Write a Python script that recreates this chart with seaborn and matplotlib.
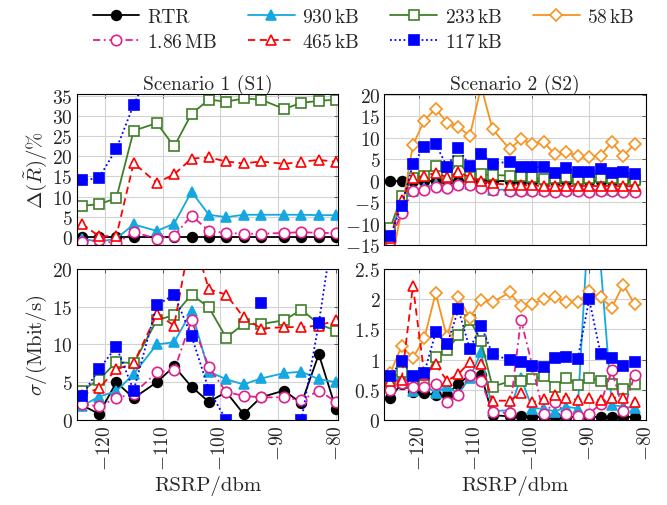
import numpy as np
import pandas as pd
import matplotlib
matplotlib.use('Agg')
import matplotlib.pyplot as plt
from matplotlib.lines import Line2D
from matplotlib.ticker import FuncFormatter, MultipleLocator
import seaborn as sns

nan = np.nan

# RSRP-Stuetzstellen der beiden Szenarien
rsrp_s1 = [-124, -121, -118, -115, -111, -108, -105, -102, -99, -96, -93, -89, -86, -83, -80]
rsrp_s2 = [-125, -123, -121, -119, -117, -115, -113, -111, -109, -107, -104, -102,
           -100, -98, -96, -94, -92, -90, -88, -86, -84, -82]

# Szenario 1: relative Abweichung Delta(R~) in %
d1_rtr = [0.0] * 15
d1_1860 = [-1.2, -0.8, -1.6, 1.2, -0.4, 0.3, 5.3, 1.5, 1.0, 0.8, 0.8, 1.0, 1.2, 1.0, 1.0]
d1_930 = [-0.4, -1.2, -0.4, 3.1, 1.5, 3.3, 11.2, 5.5, 4.9, 5.5, 5.5, 5.5, 5.5, 5.4, 5.4]
d1_465 = [3.3, 0.2, 0.2, 18.3, 13.4, 15.5, 19.4, 19.7, 18.7, 18.2, 18.7, 18.1, 18.6, 19.1, 18.6]
d1_233 = [7.7, 8.1, 9.6, 26.3, 28.2, 22.4, 30.5, 34.0, 33.5, 34.3, 34.0, 31.7, 33.2, 33.7, 34.0]
d1_117 = [14.0, 14.6, 21.8, 32.7, 45.0, nan, nan, nan, nan, nan, nan, nan, nan, nan, nan]

# Szenario 1: Standardabweichung sigma in Mbit/s
s1_rtr = [2.0, 0.8, 5.0, 2.9, 5.0, 7.1, 4.4, 2.4, 3.7, 0.8, 3.0, 3.9, 2.2, 8.7, 1.4]
s1_1860 = [2.1, 1.8, 2.9, 3.5, 6.3, 6.6, 13.2, 7.0, 3.7, 3.2, 3.0, 3.0, 2.6, 3.9, 2.4]
s1_930 = [1.8, 3.1, 3.8, 6.1, 10.0, 10.3, 14.4, 6.4, 5.4, 4.7, 5.5, 6.2, 6.4, 5.4, 5.0]
s1_465 = [3.3, 4.2, 6.7, 7.5, 14.0, 12.5, 25.0, 17.3, 16.6, 13.6, 12.1, 12.3, 12.3, 12.5, 13.2]
s1_233 = [3.9, 5.3, 7.7, 7.5, 13.2, 13.9, 16.6, 14.9, 10.9, 12.7, 12.7, 13.2, 14.6, 12.7, 11.8]
s1_117 = [3.2, 6.7, 9.7, 3.9, 15.2, 16.6, 11.1, 4.0, 0.0, nan, 15.5, nan, 0.0, 12.8, 28.0]

# Szenario 2: relative Abweichung
d2_rtr = [0.0] * 22
d2_1860 = [-14.0, -7.5, -2.4, -2.1, -1.5, -1.7, -1.1, -1.1, -1.7, -2.1, -2.4, -2.5,
           -2.5, -2.5, -2.6, -2.5, -2.5, -2.6, -2.5, -2.5, -2.6, -2.6]
d2_930 = [-12.7, -4.7, -2.4, -1.7, -0.8, -1.3, -0.8, -0.8, -1.3, -2.1, -2.1, -2.2,
          -2.2, -2.2, -2.2, -2.2, -2.2, -2.2, -2.2, -2.2, -2.2, -2.2]
d2_465 = [-13.3, -4.4, 0.7, 1.1, 1.8, 0.8, 2.0, 0.8, -0.1, -0.6, -1.0, -1.1,
          -1.1, -1.3, -1.2, -1.2, -1.3, -1.2, -1.3, -1.2, -1.3, -1.3]
d2_233 = [-11.1, -3.6, 0.7, 1.1, 3.5, 0.8, 4.6, 0.9, 1.5, 1.3, 1.2, 1.0,
          0.8, 0.3, 0.6, 0.8, 0.5, 0.6, 0.8, 0.7, 0.5, 0.2]
d2_117 = [-13.0, -5.8, 3.8, 7.9, 8.5, 3.3, 7.5, 3.4, 6.3, 4.0, 4.4, 3.3,
          3.2, 3.1, 1.9, 2.9, 2.1, 2.1, 2.7, 1.7, 2.1, 1.5]
d2_58 = [-20.0, -7.2, 8.3, 14.0, 16.8, 13.5, 12.5, 10.4, 22.0, 12.0, 7.4, 9.6,
         8.6, 9.0, 6.1, 6.7, 5.7, 5.6, 5.8, 9.0, 5.7, 8.6]

# Szenario 2: Standardabweichung
s2_rtr = [0.37, 0.6, 0.47, 0.45, 0.41, 0.42, 0.6, 0.74, 0.75, 0.08, 0.06, 0.06,
          0.05, 0.05, 0.05, 0.05, 0.05, 0.05, 0.05, 0.05, 0.05, 0.05]
s2_1860 = [0.5, 0.62, 0.55, 0.55, 0.6, 0.3, 0.41, 0.75, 0.64, 0.14, 0.11, 1.66,
           0.9, 0.1, 0.3, 0.1, 0.07, 0.1, 0.27, 0.82, 0.15, 0.74]
s2_930 = [0.62, 0.72, 0.48, 0.58, 0.45, 0.56, 0.43, 0.7, 1.12, 0.15, 0.16, 0.7,
          0.19, 0.19, 0.14, 0.22, 0.19, 3.5, 2.6, 0.25, 0.22, 0.2]
s2_465 = [0.64, 0.66, 2.22, 0.75, 0.92, 0.65, 0.76, 0.96, 0.92, 0.32, 0.32, 0.44,
          0.29, 0.35, 0.41, 0.37, 0.33, 0.36, 0.33, 0.37, 0.36, 0.3]
s2_233 = [0.68, 0.8, 0.62, 0.62, 1.05, 1.15, 1.4, 1.66, 1.3, 0.55, 0.64, 0.64,
          0.68, 0.72, 0.55, 0.7, 0.58, 0.7, 0.65, 0.59, 0.52, 0.59]
s2_117 = [0.72, 0.98, 0.72, 0.78, 1.45, 1.25, 1.83, 1.18, 1.56, 1.09, 0.99, 0.96,
          0.89, 0.88, 1.03, 1.05, 1.01, 2.0, 1.1, 1.03, 0.9, 0.96]
s2_58 = [0.77, 1.22, 1.03, 1.35, 2.1, 1.37, 2.04, 1.69, 1.98, 1.95, 2.11, 1.88,
         1.92, 2.0, 2.03, 1.95, 1.95, 2.13, 2.03, 1.86, 2.24, 1.92]

labels = ['RTR', '930$\\,$kB', '233$\\,$kB', '58$\\,$kB', '1.86$\\,$MB', '465$\\,$kB', '117$\\,$kB']

# Linienstile je Dateigroesse (Reihenfolge wie gezeichnet)
styles = {
    'RTR': dict(color='black', linestyle='-', marker='o', markersize=7,
                markerfacecolor='black', markeredgecolor='black'),
    '930$\\,$kB': dict(color='#15a8e0', linestyle='-', marker='^', markersize=7.5,
                       markerfacecolor='#15a8e0', markeredgecolor='#15a8e0'),
    '233$\\,$kB': dict(color='#3f7f2a', linestyle='-', marker='s', markersize=6.5,
                       markerfacecolor='white', markeredgecolor='#3f7f2a'),
    '58$\\,$kB': dict(color='#f7931e', linestyle='-', marker='D', markersize=6.5,
                      markerfacecolor='white', markeredgecolor='#f7931e'),
    '1.86$\\,$MB': dict(color='#e2208c', linestyle=(0, (4, 2, 1, 2)), marker='o', markersize=7.5,
                        markerfacecolor='white', markeredgecolor='#e2208c'),
    '465$\\,$kB': dict(color='#ff0000', linestyle=(0, (4, 2.5)), marker='^', markersize=7.5,
                       markerfacecolor='white', markeredgecolor='#ff0000'),
    '117$\\,$kB': dict(color='#0000ff', linestyle=(0, (1, 1.5)), marker='s', markersize=6.5,
                       markerfacecolor='#0000ff', markeredgecolor='#0000ff'),
}

panels = [
    (rsrp_s1, [d1_rtr, d1_930, d1_233, None, d1_1860, d1_465, d1_117]),
    (rsrp_s2, [d2_rtr, d2_930, d2_233, d2_58, d2_1860, d2_465, d2_117]),
    (rsrp_s1, [s1_rtr, s1_930, s1_233, None, s1_1860, s1_465, s1_117]),
    (rsrp_s2, [s2_rtr, s2_930, s2_233, s2_58, s2_1860, s2_465, s2_117]),
]


def draw_series(ax, x, y, st):
    df = pd.DataFrame({'rsrp': x, 'val': y})
    # Luecken (NaN) trennen die Linie in Segmente
    df['seg'] = df['val'].isna().cumsum()
    df = df.dropna()
    sns.lineplot(data=df, x='rsrp', y='val', units='seg', estimator=None, sort=False,
                 ax=ax, legend=False, linewidth=1.3, markeredgewidth=1.2, **st)


sns.set_style('whitegrid', rc={'grid.color': '#d3d3d3', 'axes.edgecolor': 'black',
                               'grid.linewidth': 0.8})
plt.rcParams['font.family'] = 'serif'
plt.rcParams['font.serif'] = ['cmr10']
plt.rcParams['mathtext.fontset'] = 'cm'
plt.rcParams['axes.formatter.use_mathtext'] = True

fig, axes = plt.subplots(2, 2, figsize=(6.67, 5.06), dpi=100)
fig.subplots_adjust(left=0.1154, right=0.9685, top=0.8123, bottom=0.168,
                    wspace=0.176, hspace=0.158)

fmt = FuncFormatter(lambda v, p: f'${v:g}$')

for ax, (x, series) in zip(axes.flat, panels):
    for lab, y in zip(labels, series):
        if y is None:
            continue
        draw_series(ax, x, y, styles[lab])
    ax.xaxis.set_major_locator(MultipleLocator(10))
    ax.xaxis.set_major_formatter(fmt)
    ax.yaxis.set_major_formatter(fmt)
    ax.tick_params(direction='in', length=3, width=0.6, top=True, right=True,
                   labelsize=14, pad=3, color='#444444')
    for sp in ax.spines.values():
        sp.set_linewidth(0.8)
    ax.set_xlabel('')
    ax.set_ylabel('')

axL, axR = axes[0]
bL, bR = axes[1]

axL.set_xlim(-124.8, -79.6)
bL.set_xlim(-124.8, -79.6)
axR.set_xlim(-126, -80)
bR.set_xlim(-126, -80)

axL.set_ylim(-2, 35.4)
axL.yaxis.set_major_locator(MultipleLocator(5))
axR.set_ylim(-15, 20.2)
axR.yaxis.set_major_locator(MultipleLocator(5))
bL.set_ylim(0, 20)
bL.yaxis.set_major_locator(MultipleLocator(5))
bR.set_ylim(0, 2.5)
bR.yaxis.set_major_locator(MultipleLocator(0.5))

for ax in (axL, axR):
    ax.tick_params(labelbottom=False)
for ax in (bL, bR):
    ax.tick_params(axis='x', labelrotation=90)
    ax.set_xlabel('RSRP/dbm', fontsize=15, labelpad=4)

axL.set_title('Scenario 1 (S1)', fontsize=14, pad=3)
axR.set_title('Scenario 2 (S2)', fontsize=14, pad=3)
axL.set_ylabel(r'$\Delta(\tilde{R})/\%$', fontsize=15, labelpad=2)
bL.set_ylabel(r'$\sigma/(\mathrm{Mbit/s})$', fontsize=15, labelpad=2)

# Legende: spaltenweise befuellt, daher Reihenfolge umsortiert
order = ['RTR', '1.86$\\,$MB', '930$\\,$kB', '465$\\,$kB', '233$\\,$kB', '117$\\,$kB', '58$\\,$kB']
handles = [Line2D([], [], linewidth=1.3, markeredgewidth=1.2, **styles[k]) for k in order]
fig.legend(handles, order, loc='upper center', bbox_to_anchor=(0.545, 1.005), ncol=4,
           frameon=False, fontsize=14, handlelength=2.4, handletextpad=0.4,
           columnspacing=1.6, labelspacing=0.35, borderaxespad=0.2)

plt.savefig('out.png', dpi=100)
